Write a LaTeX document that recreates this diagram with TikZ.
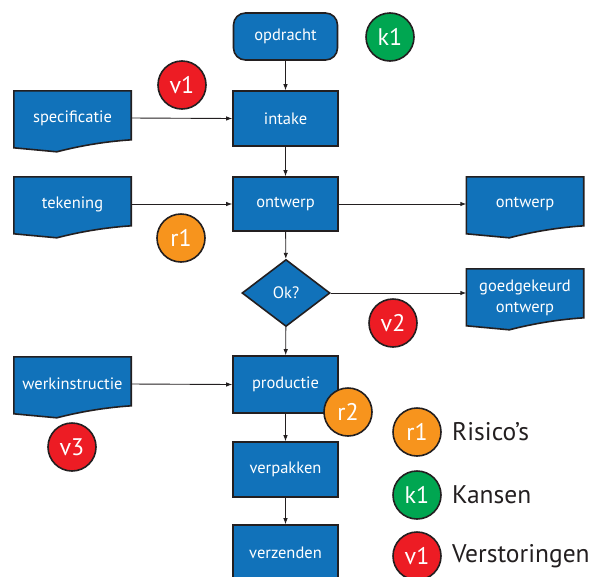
\documentclass[tikz,border=0pt]{standalone}
\usepackage{fontspec}
\setmainfont{PT Sans}
\usetikzlibrary{shapes.geometric,arrows.meta,calc,backgrounds}
\definecolor{fblue}{HTML}{1172BA}
\definecolor{ink}{HTML}{231F20}
\definecolor{cred}{HTML}{ED1C24}
\definecolor{cgreen}{HTML}{00A651}
\definecolor{corange}{HTML}{F7941D}
\newcommand\docpath[1]{%
  \begin{pgfonlayer}{background}
  \draw[draw=ink, line width=1.6pt, fill=fblue, line join=miter]
    (#1.north west) -- (#1.north east) -- ($(#1.north east)+(0,49)$)
    .. controls ($(#1.north east)+(-30,51)$) and ($(#1.north east)+(-55,56)$) ..
    ($(#1.north west)+(43,61)$) -- ($(#1.north west)+(0,57)$) -- cycle;
  \end{pgfonlayer}}
\begin{document}
\begin{tikzpicture}[x=1pt,y=-1pt,
  box/.style={draw=ink, line width=1.6pt, fill=fblue, text=white,
    minimum width=105pt, minimum height=55pt, inner sep=0pt,
    font=\fontsize{16.5}{18}\selectfont},
  docnode/.style={text=white, minimum width=117pt, minimum height=54pt,
    inner sep=0pt, align=center, font=\fontsize{16.5}{18}\selectfont},
  dec/.style={diamond, draw=ink, line width=1.6pt, fill=fblue, text=white,
    minimum width=88pt, minimum height=67pt, inner sep=0pt,
    font=\fontsize{16.5}{18}\selectfont},
  badge/.style={circle, draw=ink, line width=1.6pt, minimum size=48pt,
    inner sep=0pt, text=white, font=\fontsize{24}{26}\selectfont},
  legtext/.style={anchor=west, text=ink, inner sep=0pt, font=\fontsize{25.5}{28}\selectfont},
  conn/.style={draw=ink, line width=0.9pt, -{Latex[length=6pt,width=4.5pt]}}
]
\useasboundingbox (0,0) rectangle (596,576);

% main column
\node[box, rounded corners=12pt, minimum width=104pt, minimum height=47pt] (opd) at (285.5,36.5) {opdracht};
\node[box] (intake) at (285.5,118.5) {intake};
\node[box, minimum height=54pt] (ontw) at (285.5,204) {ontwerp};
\node[dec] (ok) at (286,293) {Ok?};
\node[box, minimum height=57pt] (prod) at (285.5,384.5) {productie};
\node[box] (verp) at (285.5,469.5) {verpakken};
\node[box] (verz) at (285.5,552.5) {verzenden};

% documents
\node[docnode] (spec) at (72.5,118) {specificatie};
\docpath{spec}
\node[docnode] (tek) at (72.5,204) {tekening};
\docpath{tek}
\node[docnode] (werk) at (72.5,384) {werkinstructie};
\docpath{werk}
\node[docnode] (ontwdoc) at (525,204) {ontwerp};
\docpath{ontwdoc}
\node[docnode, minimum height=48pt] (goed) at (525,293) {};
\docpath{goed}
\node[docnode, minimum height=0pt, font=\fontsize{16.5}{20.5}\selectfont] (goedtxt) at ($(goed.center)+(0,5)$) {goedgekeurd\\ontwerp};

% connectors
\draw[conn] (opd) -- (intake);
\draw[conn] (intake) -- (ontw);
\draw[conn] (ontw) -- (ok);
\draw[conn] (ok) -- (prod);
\draw[conn] (prod) -- (verp);
\draw[conn] (verp) -- (verz);
\draw[conn] (spec.east) -- (intake.west);
\draw[conn] (tek.east) -- (ontw.west);
\draw[conn] (ontw.east) -- (ontwdoc.west);
\draw[conn] (ok.east) -- (goed.west);
\draw[conn] (werk.east) -- (prod.west);

% badges
\node[badge, fill=cgreen] (k1) at (390,37) {k1};
\node[badge, fill=cred] (v1) at (182,85) {v1};
\node[badge, fill=corange] (r1) at (181,238) {r1};
\node[badge, fill=cred] (v2) at (393,323) {v2};
\node[badge, fill=cred] (v3) at (72,447) {v3};
\node[badge, fill=corange] (r2) at (348,412) {r2};

% legend
\node[badge, fill=corange] (lr) at (417,432) {r1};
\node[badge, fill=cgreen] (lk) at (417,495) {k1};
\node[badge, fill=cred] (lv) at (417,556) {v1};
\node[legtext] (tr) at (452,432) {Risico’s};
\node[legtext] (tk) at (452,495) {Kansen};
\node[legtext] (tv) at (452,556) {Verstoringen};
\end{tikzpicture}
\end{document}
